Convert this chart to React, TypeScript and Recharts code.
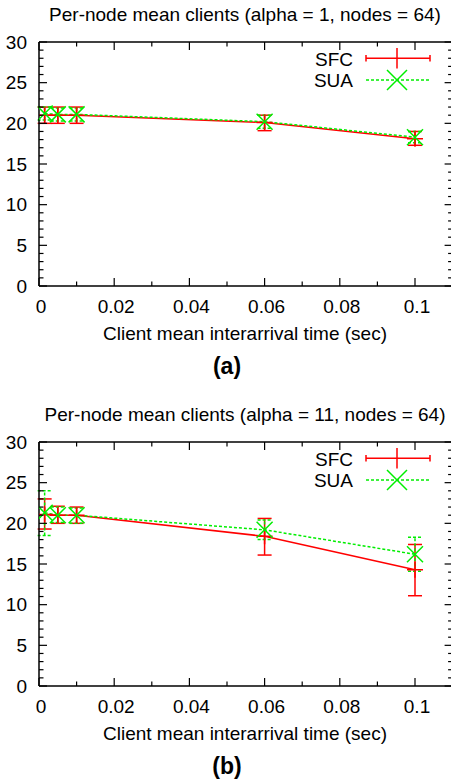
import { LineChart, Line, XAxis, YAxis, ErrorBar } from "recharts";

// interarrival times shared by both panels
const xVals = [0.0015, 0.005, 0.01, 0.06, 0.1];

// panel (a): alpha = 1
const sfcA = [21.0, 21.0, 21.0, 20.1, 18.1];
const sfcALow = [20.0, 20.0, 20.0, 19.1, 17.3];
const sfcAHigh = [22.0, 22.0, 22.0, 21.0, 19.0];
const suaA = [21.2, 21.1, 21.1, 20.2, 18.3];
const suaALow = [20.4, 20.3, 20.3, 19.4, 17.6];
const suaAHigh = [22.0, 21.9, 21.9, 21.0, 19.0];

// panel (b): alpha = 11
const sfcB = [21.1, 21.0, 21.0, 18.4, 14.3];
const sfcBLow = [19.3, 20.0, 20.0, 16.1, 11.1];
const sfcBHigh = [23.0, 22.1, 22.0, 20.6, 17.4];
const suaB = [21.3, 21.0, 21.0, 19.2, 16.2];
const suaBLow = [18.5, 20.1, 20.0, 18.0, 14.1];
const suaBHigh = [24.0, 22.0, 21.9, 20.4, 18.3];

const xTicks = [0, 0.01, 0.02, 0.03, 0.04, 0.05, 0.06, 0.07, 0.08, 0.09, 0.1];
const xTickLabels = ["0", "", "0.02", "", "0.04", "", "0.06", "", "0.08", "", "0.1"];
const yTicks = [
  0, 1, 2, 3, 4, 5, 6, 7, 8, 9, 10, 11, 12, 13, 14, 15, 16, 17, 18, 19, 20,
  21, 22, 23, 24, 25, 26, 27, 28, 29, 30,
];
const yTickLabels = ["0", "5", "10", "15", "20", "25", "30"];

const FONT = '"Liberation Sans", Arial, Helvetica, sans-serif';
const RED = "#ff0000";
const GREEN = "#00ee00";

function buildRows(sfc: number[], sfcLo: number[], sfcHi: number[], sua: number[], suaLo: number[], suaHi: number[]) {
  return xVals.map((x, i) => ({
    x,
    sfc: sfc[i],
    sfcErr: [sfc[i] - sfcLo[i], sfcHi[i] - sfc[i]],
    sua: sua[i],
    suaErr: [sua[i] - suaLo[i], suaHi[i] - sua[i]],
  }));
}

const BottomTick = (props: any) => {
  const { x, y, index } = props;
  const label = xTickLabels[index];
  const major = label !== "";
  return (
    <g>
      <line x1={x} x2={x} y1={y} y2={y - (major ? 8 : 4.5)} stroke="#000" strokeWidth={1.2} />
      {major && (
        <text x={x + 2} y={y + 26.5} textAnchor="middle" fontSize={19} fontFamily={FONT} fill="#000">
          {label}
        </text>
      )}
    </g>
  );
};

const TopTick = (props: any) => {
  const { x, y, index } = props;
  const major = xTickLabels[index] !== "";
  return <line x1={x} x2={x} y1={y} y2={y + (major ? 8 : 4.5)} stroke="#000" strokeWidth={1.2} />;
};

const LeftTick = (props: any) => {
  const { x, y, payload } = props;
  const major = payload.value % 5 === 0;
  return (
    <g>
      <line x1={x} x2={x + (major ? 8 : 4.5)} y1={y} y2={y} stroke="#000" strokeWidth={1.2} />
      {major && (
        <text x={x - 12} y={y + 6.5} textAnchor="end" fontSize={19} fontFamily={FONT} fill="#000">
          {yTickLabels[payload.value / 5]}
        </text>
      )}
    </g>
  );
};

const RightTick = (props: any) => {
  const { x, y, payload } = props;
  const major = payload.value % 5 === 0;
  return <line x1={x} x2={x - (major ? 8 : 4.5)} y1={y} y2={y} stroke="#000" strokeWidth={1.2} />;
};

const PlusDot = (props: any) => {
  const { cx, cy, index } = props;
  if (cx == null || cy == null) return <g key={index} />;
  const s = 8;
  return (
    <path
      key={index}
      d={`M${cx - s},${cy}H${cx + s}M${cx},${cy - s}V${cy + s}`}
      stroke={RED}
      strokeWidth={1.5}
      fill="none"
    />
  );
};

const CrossDot = (props: any) => {
  const { cx, cy, index } = props;
  if (cx == null || cy == null) return <g key={index} />;
  const s = 8;
  return (
    <path
      key={index}
      d={`M${cx - s},${cy - s}L${cx + s},${cy + s}M${cx - s},${cy + s}L${cx + s},${cy - s}`}
      stroke={GREEN}
      strokeWidth={1.5}
      fill="none"
    />
  );
};

const axisLine = { stroke: "#000", strokeWidth: 1.5 };

function Panel({ rows }: { rows: any[] }) {
  return (
    <LineChart width={454} height={400} data={rows} margin={{ top: 41, right: 0, bottom: 84, left: 0 }}>
      <XAxis
        dataKey="x"
        type="number"
        domain={[0, 0.11]}
        ticks={xTicks}
        interval={0}
        height={30}
        tickSize={0}
        tickMargin={0}
        tickLine={false}
        axisLine={axisLine}
        tick={BottomTick}
        allowDataOverflow
      />
      <XAxis
        xAxisId="top"
        orientation="top"
        dataKey="x"
        type="number"
        domain={[0, 0.11]}
        ticks={xTicks}
        interval={0}
        height={1}
        tickSize={0}
        tickMargin={0}
        tickLine={false}
        axisLine={axisLine}
        tick={TopTick}
        allowDataOverflow
      />
      <YAxis
        type="number"
        domain={[0, 30]}
        ticks={yTicks}
        interval={0}
        width={39}
        tickSize={0}
        tickMargin={0}
        tickLine={false}
        axisLine={axisLine}
        tick={LeftTick}
        allowDataOverflow
      />
      <YAxis
        yAxisId="right"
        orientation="right"
        type="number"
        domain={[0, 30]}
        ticks={yTicks}
        interval={0}
        width={1.4}
        tickSize={0}
        tickMargin={0}
        tickLine={false}
        axisLine={axisLine}
        tick={RightTick}
        allowDataOverflow
      />
      <Line
        dataKey="sfc"
        stroke={RED}
        strokeWidth={1.5}
        dot={PlusDot}
        activeDot={false}
        isAnimationActive={false}
      >
        <ErrorBar dataKey="sfcErr" direction="y" width={7} stroke={RED} strokeWidth={1.5} isAnimationActive={false} />
      </Line>
      <Line
        dataKey="sua"
        stroke={GREEN}
        strokeWidth={1.5}
        strokeDasharray="3 2"
        dot={CrossDot}
        activeDot={false}
        isAnimationActive={false}
      >
        <ErrorBar
          dataKey="suaErr"
          direction="y"
          width={7}
          stroke={GREEN}
          strokeWidth={1.5}
          strokeDasharray="3 2"
          isAnimationActive={false}
        />
      </Line>
    </LineChart>
  );
}

function Decor({ dy, title, tag }: { dy: number; title: string; tag: string }) {
  return (
    <g transform={`translate(0, ${dy})`} fontFamily={FONT} fill="#000">
      <text x={245} y={20.7} textAnchor="middle" fontSize={19}>
        {title}
      </text>
      <text x={245} y={340} textAnchor="middle" fontSize={19}>
        Client mean interarrival time (sec)
      </text>
      <text x={227} y={374} textAnchor="middle" fontSize={23} fontWeight="bold">
        {tag}
      </text>
      {/* legend */}
      <text x={353} y={65.5} textAnchor="end" fontSize={19}>
        SFC
      </text>
      <path d="M366,58.3H430M366,55V61.6M430,55V61.6M397,48V68.6" stroke={RED} strokeWidth={1.5} fill="none" />
      <text x={353} y={87} textAnchor="end" fontSize={19}>
        SUA
      </text>
      <path d="M366,80H430" stroke={GREEN} strokeWidth={1.5} strokeDasharray="3 2" fill="none" />
      <path d="M387,70L407,90M387,90L407,70" stroke={GREEN} strokeWidth={1.5} fill="none" />
    </g>
  );
}

export default function App() {
  const rowsA = buildRows(sfcA, sfcALow, sfcAHigh, suaA, suaALow, suaAHigh);
  const rowsB = buildRows(sfcB, sfcBLow, sfcBHigh, suaB, suaBLow, suaBHigh);
  return (
    <div style={{ position: "absolute", left: 0, top: 0, width: 451, height: 784, overflow: "hidden", background: "#fff" }}>
      <div style={{ position: "absolute", left: 0, top: 0 }}>
        <Panel rows={rowsA} />
      </div>
      <div style={{ position: "absolute", left: 0, top: 400 }}>
        <Panel rows={rowsB} />
      </div>
      <svg width={451} height={784} style={{ position: "absolute", left: 0, top: 0, pointerEvents: "none" }}>
        <Decor dy={0} title="Per-node mean clients (alpha = 1, nodes = 64)" tag="(a)" />
        <Decor dy={400} title="Per-node mean clients (alpha = 11, nodes = 64)" tag="(b)" />
      </svg>
    </div>
  );
}
